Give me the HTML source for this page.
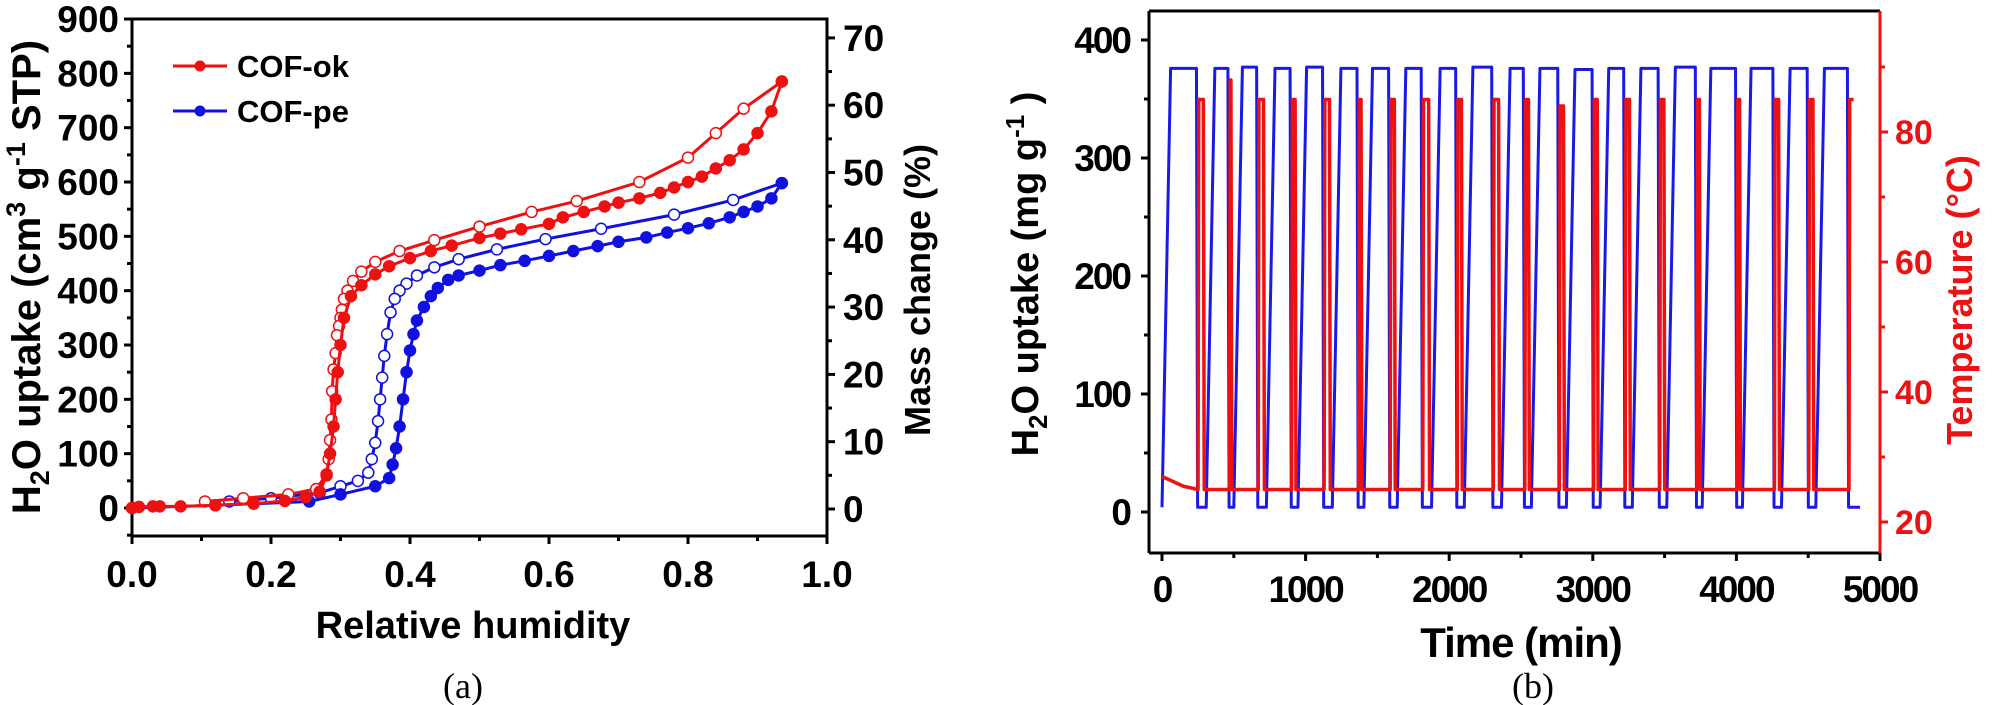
<!DOCTYPE html>
<html><head><meta charset="utf-8">
<style>
html,body{margin:0;padding:0;background:#fff;}
svg{display:block;font-family:"Liberation Sans",Arial,sans-serif;font-weight:bold;}
</style></head>
<body>
<svg id="fig" width="1999" height="705" viewBox="0 0 1999 705" xmlns="http://www.w3.org/2000/svg">
<g id="chartA"></g>
<g id="chartB"></g>
</svg>
<script>
// ---------- Chart (a) data ----------
const okAdsX = [0,0.01,0.03,0.04,0.07,0.12,0.175,0.22,0.25,0.27,0.28,0.285,0.29,0.293,0.296,0.3,0.305,0.315,0.33,0.35,0.37,0.4,0.43,0.46,0.5,0.53,0.56,0.6,0.62,0.65,0.68,0.7,0.73,0.76,0.78,0.8,0.82,0.84,0.86,0.88,0.9,0.92,0.935];
const okAdsY = [0,2,3,3,3,5,8,13,20,30,60,100,150,200,250,300,350,390,410,430,445,460,473,483,497,505,513,523,535,545,555,562,570,580,590,600,610,625,640,660,690,730,785];
const okDesX = [0.935,0.88,0.84,0.8,0.73,0.64,0.575,0.5,0.435,0.385,0.35,0.33,0.318,0.31,0.305,0.302,0.3,0.298,0.295,0.293,0.29,0.288,0.287,0.285,0.283,0.28,0.265,0.225,0.16,0.105];
const okDesY = [785,735,690,645,600,565,545,518,493,473,453,435,418,400,385,365,350,335,318,285,255,215,163,125,90,62,35,25,18,12];
const peAdsX = [0,0.12,0.255,0.3,0.35,0.37,0.375,0.38,0.385,0.39,0.395,0.4,0.405,0.41,0.42,0.43,0.44,0.455,0.47,0.5,0.53,0.565,0.6,0.635,0.67,0.7,0.74,0.77,0.8,0.83,0.86,0.88,0.9,0.92,0.935];
const peAdsY = [0,5,12,25,40,55,80,110,150,200,250,290,320,345,370,390,405,420,428,437,447,455,464,473,482,490,498,507,515,524,535,545,555,570,598];
const peDesX = [0.935,0.865,0.78,0.675,0.595,0.525,0.47,0.435,0.41,0.395,0.385,0.378,0.372,0.367,0.363,0.36,0.357,0.354,0.35,0.345,0.34,0.325,0.3,0.27,0.2,0.14];
const peDesY = [598,567,540,514,495,476,458,443,428,413,400,385,360,320,280,240,200,160,120,90,65,50,40,28,18,12];
const aXTicks = [0,0.2,0.4,0.6,0.8,1.0];
const aXTickLabels = ["0.0","0.2","0.4","0.6","0.8","1.0"];
const aYTicks = [0,100,200,300,400,500,600,700,800,900];
const aY2Ticks = [0,10,20,30,40,50,60,70];

// ---------- Chart (b) data ----------
const dropTimes = [248,467,667,900,1126,1366,1586,1813,2053,2304,2524,2764,3003,3223,3463,3722,4002,4262,4501,4781];
const riseTimes = [308,500,727,947,1186,1406,1638,1877,2105,2364,2572,2816,3051,3275,3515,3762,4042,4314,4553,4861];
const plateauVals = [376,376,377,376,377,376,376,376,376,377,376,376,375,376,376,377,376,376,376,376];
const peakTemps = [85,88,85,85,85,85,85,85,85,85,85,84,85,85,85,85,85,85,85,85];
const lowUptake = 4;
const baseTemp = 25;
const bXTicks = [0,1000,2000,3000,4000,5000];
const bYTicks = [0,100,200,300,400];
const bY2Ticks = [20,40,60,80];

const NS="http://www.w3.org/2000/svg";
function mk(tag, attrs, parent){const e=document.createElementNS(NS,tag);for(const k in attrs)e.setAttribute(k,attrs[k]);parent.appendChild(e);return e;}

const ax = v => 132 + v*695;
const ay = v => 508 - v*0.5433;
const ay2 = v => 509 - v*6.73;
const bx = t => 1162 + t*0.1436;
const by = v => 512 - v*1.18;
const by2 = T => 522 - (T-20)*6.5;

// ===== Chart A =====
const A=document.getElementById('chartA');
const frameA=mk('rect',{x:132,y:19,width:695,height:517,fill:'none',stroke:'#000','stroke-width':3},A);


aYTicks.forEach(v=>{
  const y=ay(v);
  mk('line',{x1:124,x2:132,y1:y,y2:y,stroke:'#000','stroke-width':3},A);
  if(v<900) mk('line',{x1:127,x2:132,y1:ay(v+50),y2:ay(v+50),stroke:'#000','stroke-width':3},A);
  const t=mk('text',{x:119,y:y+13,'text-anchor':'end','font-size':37},A);t.textContent=v;
  
  
});
mk('line',{x1:127,x2:132,y1:ay(-50),y2:ay(-50),stroke:'#000','stroke-width':3},A);
aY2Ticks.forEach(v=>{
  const y=ay2(v);
  mk('line',{x1:827,x2:835,y1:y,y2:y,stroke:'#000','stroke-width':3},A);
  if(v<70) mk('line',{x1:827,x2:832,y1:ay2(v+5),y2:ay2(v+5),stroke:'#000','stroke-width':3},A);
  const t=mk('text',{x:843,y:y+13,'text-anchor':'start','font-size':37},A);t.textContent=v;
  
  
});
aXTicks.forEach((v,i)=>{
  const x=ax(v);
  mk('line',{x1:x,x2:x,y1:536,y2:544,stroke:'#000','stroke-width':3},A);
  if(i<aXTicks.length-1) mk('line',{x1:ax(v+0.1),x2:ax(v+0.1),y1:536,y2:541,stroke:'#000','stroke-width':3},A);
  const t=mk('text',{x:x,y:587,'text-anchor':'middle','font-size':37},A);t.textContent=aXTickLabels[i];
  
  
});
function series(xs,ys,color,filled,name){
  const g=mk('g',{},A);
  
  
  mk('polyline',{points:xs.map((x,i)=>ax(x)+','+ay(ys[i])).join(' '),fill:'none',stroke:color,'stroke-width':3},g);
  xs.forEach((x,i)=>{
    const c=mk('circle',{cx:ax(x),cy:ay(ys[i]),r:5.5,fill:filled?color:'#fff',stroke:color,'stroke-width':1.5},g);
    
    
  });
}
series(peDesX,peDesY,'#1010e0',false,'cof-pe-desorption');
series(peAdsX,peAdsY,'#1010e0',true,'cof-pe-adsorption');
series(okDesX,okDesY,'#ee1111',false,'cof-ok-desorption');
series(okAdsX,okAdsY,'#ee1111',true,'cof-ok-adsorption');
const lg=mk('g',{},A);


[['#ee1111','COF-ok',66],['#1010e0','COF-pe',111]].forEach(([c,l,y])=>{
  mk('line',{x1:173,x2:227,y1:y,y2:y,stroke:c,'stroke-width':3},lg);
  mk('circle',{cx:200,cy:y,r:5.5,fill:c},lg);
  const t=mk('text',{x:237,y:y+11,'font-size':31},lg);t.textContent=l;
  
  
});
let t;
t=mk('text',{x:0,y:0,'font-size':40,'text-anchor':'middle',transform:'translate(40,277) rotate(-90)'},A);
t.innerHTML='H<tspan font-size="27" dy="9">2</tspan><tspan dy="-9">O uptake (cm</tspan><tspan font-size="27" dy="-15">3</tspan><tspan dy="15"> g</tspan><tspan font-size="27" dy="-15">-1</tspan><tspan dy="15"> STP)</tspan>';


t=mk('text',{x:0,y:0,'font-size':36,'text-anchor':'middle',transform:'translate(930,290) rotate(-90)'},A);
t.textContent='Mass change (%)';


t=mk('text',{x:473,y:638,'font-size':38,'text-anchor':'middle'},A);
t.textContent='Relative humidity';


t=mk('text',{x:463,y:698,'font-size':36,'text-anchor':'middle','font-family':'Liberation Serif, serif','font-weight':'normal'},A);
t.textContent='(a)';



// ===== Chart B =====
const B=document.getElementById('chartB');
let bp=[[0,lowUptake],[60,plateauVals[0]]];
dropTimes.forEach((d,i)=>{
  bp.push([d-8,plateauVals[i]]);bp.push([d,lowUptake]);
  const r=riseTimes[i];bp.push([r,lowUptake]);
  if(i<dropTimes.length-1){bp.push([r+60,plateauVals[i+1]]);}
});
const blue=mk('polyline',{points:bp.map(p=>bx(p[0])+','+by(p[1])).join(' '),fill:'none',stroke:'#1a1ae6','stroke-width':3,'stroke-linejoin':'round'},B);


let rp=[[0,baseTemp+2],[150,baseTemp+0.5]];
dropTimes.forEach((d,i)=>{
  const r=riseTimes[i];
  rp.push([d+3,baseTemp]);rp.push([d+8,peakTemps[i]]);
  if(i<dropTimes.length-1){rp.push([r-20,peakTemps[i]]);rp.push([r-14,baseTemp]);}
  else{rp.push([d+35,peakTemps[i]]);}
});
const red=mk('polyline',{points:rp.map(p=>bx(p[0])+','+by2(p[1])).join(' '),fill:'none',stroke:'#ee1111','stroke-width':3.5,'stroke-linejoin':'round'},B);


mk('line',{x1:1149,x2:1880,y1:11,y2:11,stroke:'#000','stroke-width':3},B);
mk('line',{x1:1149,x2:1149,y1:11,y2:553,stroke:'#000','stroke-width':3},B);
mk('line',{x1:1149,x2:1880,y1:553,y2:553,stroke:'#000','stroke-width':3},B);
const rax=mk('line',{x1:1880,x2:1880,y1:11,y2:553,stroke:'#ee1111','stroke-width':3},B);


bYTicks.forEach(v=>{
  const y=by(v);
  mk('line',{x1:1141,x2:1149,y1:y,y2:y,stroke:'#000','stroke-width':3},B);
  mk('line',{x1:1144,x2:1149,y1:by(v+50),y2:by(v+50),stroke:'#000','stroke-width':3},B);
  const t=mk('text',{x:1130,y:y+13,'text-anchor':'end','font-size':37,'letter-spacing':-2},B);t.textContent=v;
  
  
});
bY2Ticks.forEach(v=>{
  const y=by2(v);
  mk('line',{x1:1880,x2:1888,y1:y,y2:y,stroke:'#ee1111','stroke-width':3},B);
  mk('line',{x1:1880,x2:1885,y1:by2(v+10),y2:by2(v+10),stroke:'#ee1111','stroke-width':3},B);
  const t=mk('text',{x:1895,y:y+12,'font-size':34,fill:'#ee1111'},B);t.textContent=v;
  
  
});
bXTicks.forEach((v,i)=>{
  const x=bx(v);
  mk('line',{x1:x,x2:x,y1:553,y2:561,stroke:'#000','stroke-width':3},B);
  if(i<bXTicks.length-1) mk('line',{x1:bx(v+500),x2:bx(v+500),y1:553,y2:558,stroke:'#000','stroke-width':3},B);
  const t=mk('text',{x:x,y:602,'text-anchor':'middle','font-size':37,'letter-spacing':-2},B);t.textContent=v;
  
  
});
t=mk('text',{x:0,y:0,'font-size':38,'text-anchor':'middle',transform:'translate(1038,274) rotate(-90)'},B);
t.innerHTML='H<tspan font-size="26" dy="9">2</tspan><tspan dy="-9">O uptake (mg g</tspan><tspan font-size="26" dy="-14">-1</tspan><tspan dy="14"> )</tspan>';


t=mk('text',{x:0,y:0,'font-size':36,'text-anchor':'middle',fill:'#ee1111',transform:'translate(1972,300) rotate(-90)'},B);
t.textContent='Temperature (°C)';


t=mk('text',{x:1521,y:657,'font-size':42,'text-anchor':'middle','letter-spacing':-1},B);
t.textContent='Time (min)';


t=mk('text',{x:1533,y:698,'font-size':36,'text-anchor':'middle','font-family':'Liberation Serif, serif','font-weight':'normal'},B);
t.textContent='(b)';


</script>
</body></html>
